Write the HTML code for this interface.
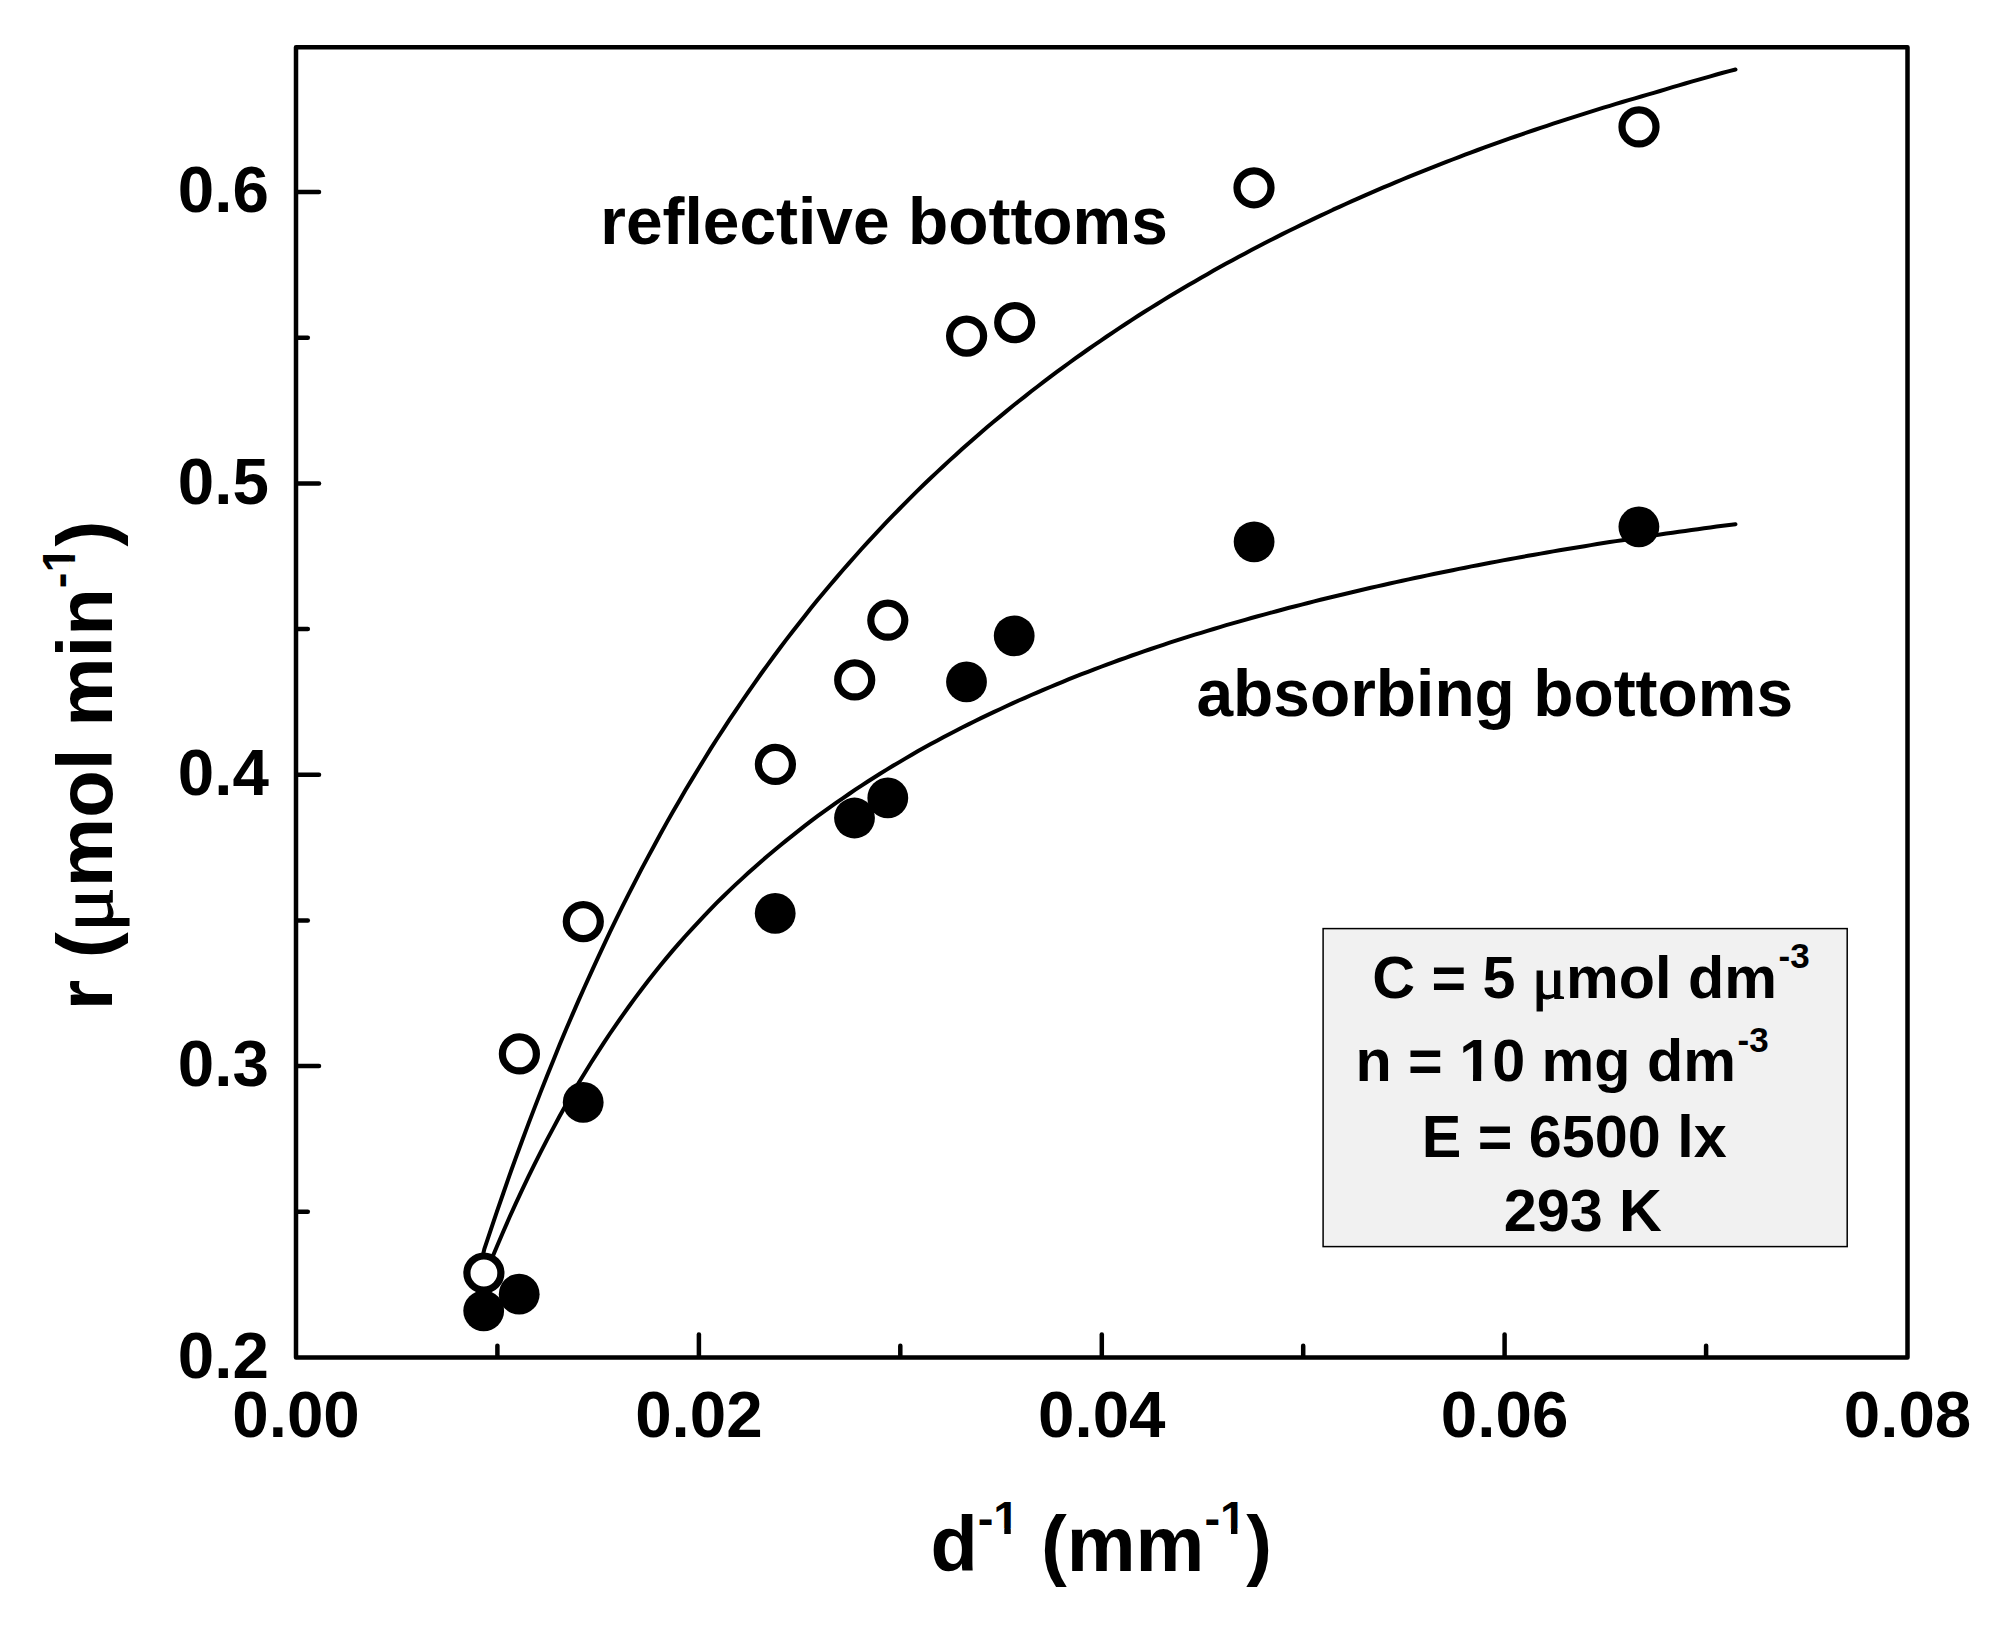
<!DOCTYPE html>
<html lang="en"><head><meta charset="utf-8"><title>r vs 1/d</title>
<style>
html,body{margin:0;padding:0;background:#fff;}
body{width:1999px;height:1637px;overflow:hidden;}
svg{display:block;}
text{font-family:"Liberation Sans",sans-serif;font-weight:bold;fill:#000;}
.mu{font-family:"Liberation Serif","DejaVu Serif",serif;font-weight:normal;stroke:#000;stroke-width:1.1px;}
.tk{font-size:65.5px;}
.ax{font-size:78px;}
.an{font-size:65.9px;}
.lg{font-size:59.3px;}
</style></head><body>
<svg width="1999" height="1637" viewBox="0 0 1999 1637">
<rect width="1999" height="1637" fill="#fff"/>
<defs><clipPath id="cxl" clipPathUnits="userSpaceOnUse"><path clip-rule="evenodd" d="M-3000,-3000H6000V6000H-3000ZM994.91,1528.60H1004.29V1536.80H994.91ZM1010.74,1528.60H1019.53V1536.80H1010.74ZM1221.61,1528.60H1230.99V1536.80H1221.61ZM1237.44,1528.60H1246.23V1536.80H1237.44Z"/></clipPath><clipPath id="cyl" clipPathUnits="userSpaceOnUse"><path clip-rule="evenodd" d="M-3000,-3000H6000V6000H-3000ZM439.24,-42.80H448.63V-34.60H439.24ZM455.07,-42.80H463.86V-34.60H455.07Z"/></clipPath><clipPath id="cl2" clipPathUnits="userSpaceOnUse"><path clip-rule="evenodd" d="M-3000,-3000H6000V6000H-3000ZM1461.19,1074.85H1473.04V1084.30H1461.19ZM1481.17,1074.85H1492.26V1084.30H1481.17Z"/></clipPath></defs>

<g fill="none" stroke="#000" stroke-width="4" stroke-linecap="round" stroke-linejoin="round">
<path d="M482.8,1255.5 L484.3,1249.2 L490.6,1230.3 L496.9,1211.7 L503.2,1193.5 L509.4,1175.6 L515.7,1158.1 L522.0,1141.0 L528.3,1124.1 L534.6,1107.6 L540.9,1091.4 L547.2,1075.5 L553.5,1059.9 L559.7,1044.6 L566.0,1029.6 L572.3,1014.9 L578.6,1000.4 L584.9,986.2 L591.2,972.3 L597.5,958.6 L603.8,945.1 L610.0,931.9 L616.3,918.9 L622.6,906.2 L628.9,893.6 L635.2,881.3 L641.5,869.2 L647.8,857.4 L654.1,845.7 L660.3,834.2 L666.6,822.9 L672.9,811.8 L679.2,800.9 L685.5,790.1 L691.8,779.6 L698.1,769.2 L704.4,759.0 L710.6,748.9 L716.9,739.0 L723.2,729.3 L729.5,719.7 L735.8,710.3 L742.1,701.0 L748.4,691.9 L754.7,682.9 L760.9,674.0 L767.2,665.3 L773.5,656.7 L779.8,648.3 L786.1,639.9 L792.4,631.7 L798.7,623.7 L805.0,615.7 L811.2,607.8 L817.5,600.1 L823.8,592.5 L830.1,585.0 L836.4,577.6 L842.7,570.3 L849.0,563.1 L855.3,556.0 L861.5,549.0 L867.8,542.1 L874.1,535.3 L880.4,528.6 L886.7,521.9 L893.0,515.4 L899.3,509.0 L905.6,502.6 L911.8,496.3 L918.1,490.1 L924.4,484.0 L930.7,478.0 L937.0,472.1 L943.3,466.2 L949.6,460.4 L955.9,454.7 L962.1,449.0 L968.4,443.4 L974.7,437.9 L981.0,432.5 L987.3,427.1 L993.6,421.8 L999.9,416.6 L1006.2,411.4 L1012.4,406.3 L1018.7,401.2 L1025.0,396.3 L1031.3,391.3 L1037.6,386.5 L1043.9,381.7 L1050.2,376.9 L1056.5,372.2 L1062.7,367.6 L1069.0,363.0 L1075.3,358.4 L1081.6,354.0 L1087.9,349.5 L1094.2,345.1 L1100.5,340.8 L1106.8,336.5 L1113.0,332.3 L1119.3,328.1 L1125.6,324.0 L1131.9,319.9 L1138.2,315.8 L1144.5,311.8 L1150.8,307.9 L1157.1,304.0 L1163.3,300.1 L1169.6,296.3 L1175.9,292.5 L1182.2,288.7 L1188.5,285.0 L1194.8,281.4 L1201.1,277.7 L1207.4,274.2 L1213.6,270.6 L1219.9,267.1 L1226.2,263.6 L1232.5,260.2 L1238.8,256.8 L1245.1,253.4 L1251.4,250.1 L1257.7,246.8 L1263.9,243.5 L1270.2,240.3 L1276.5,237.1 L1282.8,233.9 L1289.1,230.8 L1295.4,227.7 L1301.7,224.6 L1308.0,221.6 L1314.2,218.6 L1320.5,215.6 L1326.8,212.7 L1333.1,209.7 L1339.4,206.9 L1345.7,204.0 L1352.0,201.2 L1358.3,198.4 L1364.5,195.6 L1370.8,192.8 L1377.1,190.1 L1383.4,187.4 L1389.7,184.8 L1396.0,182.1 L1402.3,179.5 L1408.6,176.9 L1414.8,174.3 L1421.1,171.8 L1427.4,169.3 L1433.7,166.8 L1440.0,164.3 L1446.3,161.9 L1452.6,159.5 L1458.9,157.1 L1465.1,154.7 L1471.4,152.3 L1477.7,150.0 L1484.0,147.7 L1490.3,145.4 L1496.6,143.2 L1502.9,140.9 L1509.2,138.7 L1515.4,136.5 L1521.7,134.3 L1528.0,132.1 L1534.3,130.0 L1540.6,127.9 L1546.9,125.8 L1553.2,123.7 L1559.5,121.6 L1565.7,119.6 L1572.0,117.6 L1578.3,115.6 L1584.6,113.6 L1590.9,111.6 L1597.2,109.7 L1603.5,107.7 L1609.8,105.8 L1616.0,103.9 L1622.3,102.0 L1628.6,100.2 L1634.9,98.3 L1641.2,96.5 L1647.5,94.7 L1653.8,92.8 L1660.1,91.0 L1666.3,89.1 L1672.6,87.2 L1678.9,85.4 L1685.2,83.5 L1691.5,81.7 L1697.8,79.9 L1704.1,78.1 L1710.4,76.3 L1716.6,74.5 L1722.9,72.8 L1729.2,71.1 L1735.5,69.5"/>
<path d="M484.3,1277.1 L490.6,1261.5 L496.9,1246.5 L503.2,1231.8 L509.4,1217.5 L515.7,1203.6 L522.0,1190.1 L528.3,1176.9 L534.6,1164.1 L540.9,1151.6 L547.2,1139.4 L553.5,1127.6 L559.7,1116.0 L566.0,1104.8 L572.3,1093.8 L578.6,1083.1 L584.9,1072.7 L591.2,1062.5 L597.5,1052.6 L603.8,1042.9 L610.0,1033.5 L616.3,1024.3 L622.6,1015.3 L628.9,1006.5 L635.2,997.9 L641.5,989.5 L647.8,981.3 L654.1,973.3 L660.3,965.5 L666.6,957.9 L672.9,950.4 L679.2,943.1 L685.5,936.0 L691.8,929.1 L698.1,922.3 L704.4,915.6 L710.6,909.1 L716.9,902.7 L723.2,896.5 L729.5,890.4 L735.8,884.4 L742.1,878.6 L748.4,872.8 L754.7,867.2 L760.9,861.7 L767.2,856.3 L773.5,851.0 L779.8,845.7 L786.1,840.6 L792.4,835.6 L798.7,830.6 L805.0,825.7 L811.2,820.9 L817.5,816.2 L823.8,811.6 L830.1,807.1 L836.4,802.6 L842.7,798.3 L849.0,794.0 L855.3,789.7 L861.5,785.6 L867.8,781.5 L874.1,777.5 L880.4,773.5 L886.7,769.6 L893.0,765.8 L899.3,762.1 L905.6,758.4 L911.8,754.7 L918.1,751.1 L924.4,747.6 L930.7,744.1 L937.0,740.7 L943.3,737.3 L949.6,734.0 L955.9,730.8 L962.1,727.5 L968.4,724.4 L974.7,721.2 L981.0,718.1 L987.3,715.1 L993.6,712.1 L999.9,709.2 L1006.2,706.2 L1012.4,703.4 L1018.7,700.5 L1025.0,697.8 L1031.3,695.0 L1037.6,692.3 L1043.9,689.6 L1050.2,687.0 L1056.5,684.3 L1062.7,681.8 L1069.0,679.2 L1075.3,676.7 L1081.6,674.2 L1087.9,671.8 L1094.2,669.4 L1100.5,667.0 L1106.8,664.6 L1113.0,662.3 L1119.3,660.0 L1125.6,657.8 L1131.9,655.5 L1138.2,653.3 L1144.5,651.2 L1150.8,649.0 L1157.1,646.9 L1163.3,644.8 L1169.6,642.7 L1175.9,640.7 L1182.2,638.7 L1188.5,636.7 L1194.8,634.7 L1201.1,632.8 L1207.4,630.9 L1213.6,629.0 L1219.9,627.1 L1226.2,625.2 L1232.5,623.4 L1238.8,621.6 L1245.1,619.8 L1251.4,618.0 L1257.7,616.3 L1263.9,614.6 L1270.2,612.9 L1276.5,611.2 L1282.8,609.5 L1289.1,607.8 L1295.4,606.2 L1301.7,604.6 L1308.0,603.0 L1314.2,601.4 L1320.5,599.8 L1326.8,598.3 L1333.1,596.7 L1339.4,595.2 L1345.7,593.7 L1352.0,592.2 L1358.3,590.7 L1364.5,589.3 L1370.8,587.8 L1377.1,586.4 L1383.4,585.0 L1389.7,583.5 L1396.0,582.1 L1402.3,580.8 L1408.6,579.4 L1414.8,578.0 L1421.1,576.7 L1427.4,575.4 L1433.7,574.0 L1440.0,572.7 L1446.3,571.5 L1452.6,570.2 L1458.9,568.9 L1465.1,567.7 L1471.4,566.4 L1477.7,565.2 L1484.0,564.0 L1490.3,562.8 L1496.6,561.6 L1502.9,560.4 L1509.2,559.3 L1515.4,558.1 L1521.7,557.0 L1528.0,555.8 L1534.3,554.7 L1540.6,553.6 L1546.9,552.5 L1553.2,551.4 L1559.5,550.3 L1565.7,549.3 L1572.0,548.2 L1578.3,547.2 L1584.6,546.2 L1590.9,545.1 L1597.2,544.1 L1603.5,543.1 L1609.8,542.1 L1616.0,541.1 L1622.3,540.2 L1628.6,539.2 L1634.9,538.2 L1641.2,537.3 L1647.5,536.4 L1653.8,535.4 L1660.1,534.5 L1666.3,533.6 L1672.6,532.7 L1678.9,531.8 L1685.2,530.9 L1691.5,530.0 L1697.8,529.2 L1704.1,528.3 L1710.4,527.5 L1716.6,526.6 L1722.9,525.8 L1729.2,525.0 L1735.5,524.2"/>
</g>
<g stroke="#000" stroke-width="4.5" stroke-linecap="round" fill="none">
<line x1="497.4" y1="1356.5" x2="497.4" y2="1345.7"/>
<line x1="698.9" y1="1356.5" x2="698.9" y2="1334.5"/>
<line x1="900.3" y1="1356.5" x2="900.3" y2="1345.7"/>
<line x1="1101.8" y1="1356.5" x2="1101.8" y2="1334.5"/>
<line x1="1303.2" y1="1356.5" x2="1303.2" y2="1345.7"/>
<line x1="1504.6" y1="1356.5" x2="1504.6" y2="1334.5"/>
<line x1="1706.1" y1="1356.5" x2="1706.1" y2="1345.7"/>
<line x1="297.0" y1="1211.8" x2="307.8" y2="1211.8"/>
<line x1="297.0" y1="1066.1" x2="319.0" y2="1066.1"/>
<line x1="297.0" y1="920.5" x2="307.8" y2="920.5"/>
<line x1="297.0" y1="774.8" x2="319.0" y2="774.8"/>
<line x1="297.0" y1="629.1" x2="307.8" y2="629.1"/>
<line x1="297.0" y1="483.5" x2="319.0" y2="483.5"/>
<line x1="297.0" y1="337.8" x2="307.8" y2="337.8"/>
<line x1="297.0" y1="192.1" x2="319.0" y2="192.1"/>
</g>
<rect x="296.0" y="47.3" width="1611.5" height="1310.2" fill="none" stroke="#000" stroke-width="4.5" stroke-linejoin="round"/>
<circle cx="483.7" cy="1310.8" r="20.4" fill="#000"/>
<circle cx="519.2" cy="1294.2" r="20.4" fill="#000"/>
<circle cx="583.2" cy="1102.4" r="20.4" fill="#000"/>
<circle cx="775.2" cy="913.4" r="20.4" fill="#000"/>
<circle cx="854.5" cy="818.0" r="20.4" fill="#000"/>
<circle cx="887.8" cy="797.9" r="20.4" fill="#000"/>
<circle cx="966.5" cy="681.9" r="20.4" fill="#000"/>
<circle cx="1014.2" cy="635.8" r="20.4" fill="#000"/>
<circle cx="1254.1" cy="541.8" r="20.4" fill="#000"/>
<circle cx="1638.9" cy="526.8" r="20.4" fill="#000"/>
<circle cx="483.9" cy="1273.0" r="17" fill="#fff" stroke="#000" stroke-width="7.2"/>
<circle cx="519.4" cy="1053.9" r="17" fill="#fff" stroke="#000" stroke-width="7.2"/>
<circle cx="583.3" cy="921.6" r="17" fill="#fff" stroke="#000" stroke-width="7.2"/>
<circle cx="775.4" cy="764.4" r="17" fill="#fff" stroke="#000" stroke-width="7.2"/>
<circle cx="854.7" cy="679.9" r="17" fill="#fff" stroke="#000" stroke-width="7.2"/>
<circle cx="887.8" cy="620.2" r="17" fill="#fff" stroke="#000" stroke-width="7.2"/>
<circle cx="966.6" cy="336.1" r="17" fill="#fff" stroke="#000" stroke-width="7.2"/>
<circle cx="1014.7" cy="322.6" r="17" fill="#fff" stroke="#000" stroke-width="7.2"/>
<circle cx="1254.0" cy="187.8" r="17" fill="#fff" stroke="#000" stroke-width="7.2"/>
<circle cx="1639.0" cy="126.9" r="17" fill="#fff" stroke="#000" stroke-width="7.2"/>
<text class="tk" x="296.0" y="1436.6" text-anchor="middle">0.00</text>
<text class="tk" x="698.9" y="1436.6" text-anchor="middle">0.02</text>
<text class="tk" x="1101.8" y="1436.6" text-anchor="middle">0.04</text>
<text class="tk" x="1504.6" y="1436.6" text-anchor="middle">0.06</text>
<text class="tk" x="1907.5" y="1436.6" text-anchor="middle">0.08</text>
<text class="tk" x="268.9" y="1377.8" text-anchor="end">0.2</text>
<text class="tk" x="268.9" y="1086.4" text-anchor="end">0.3</text>
<text class="tk" x="268.9" y="795.1" text-anchor="end">0.4</text>
<text class="tk" x="268.9" y="503.8" text-anchor="end">0.5</text>
<text class="tk" x="268.9" y="212.4" text-anchor="end">0.6</text>
<text id="xl" clip-path="url(#cxl)" class="ax" style="font-size:77.4px" x="930.4" y="1571.4">d<tspan font-size="47" dy="-37.6">-1</tspan><tspan dy="37.6"> (mm</tspan><tspan font-size="47" dy="-37.6">-1</tspan><tspan dy="37.6">)</tspan></text>
<text id="yl" clip-path="url(#cyl)" class="ax" style="font-size:78px" transform="translate(112.4,1010.2) rotate(-90)">r (<tspan class="mu" textLength="45" lengthAdjust="spacingAndGlyphs">μ</tspan>mol min<tspan font-size="47" dy="-37.6">-1</tspan><tspan dy="37.6">)</tspan></text>
<text class="an" x="600.3" y="244.4">reflective bottoms</text>
<text class="an" x="1196.4" y="716.4">absorbing bottoms</text>
<rect x="1323.1" y="928.6" width="524.1" height="318.0" fill="#f1f1f1" stroke="#000" stroke-width="1.5"/>
<text class="lg" x="1372.2" y="998.4">C = 5 <tspan class="mu" textLength="34" lengthAdjust="spacingAndGlyphs">μ</tspan>mol dm<tspan font-size="35" dy="-30" dx="1.6">-3</tspan></text>
<text id="l2" clip-path="url(#cl2)" class="lg" x="1355.4" y="1081.3">n = 10 mg dm<tspan font-size="35" dy="-29.5" dx="1.6">-3</tspan></text>
<text class="lg" x="1421.7" y="1156.7">E = 6500 lx</text>
<text class="lg" x="1503.7" y="1231.3">293 K</text>
</svg></body></html>
